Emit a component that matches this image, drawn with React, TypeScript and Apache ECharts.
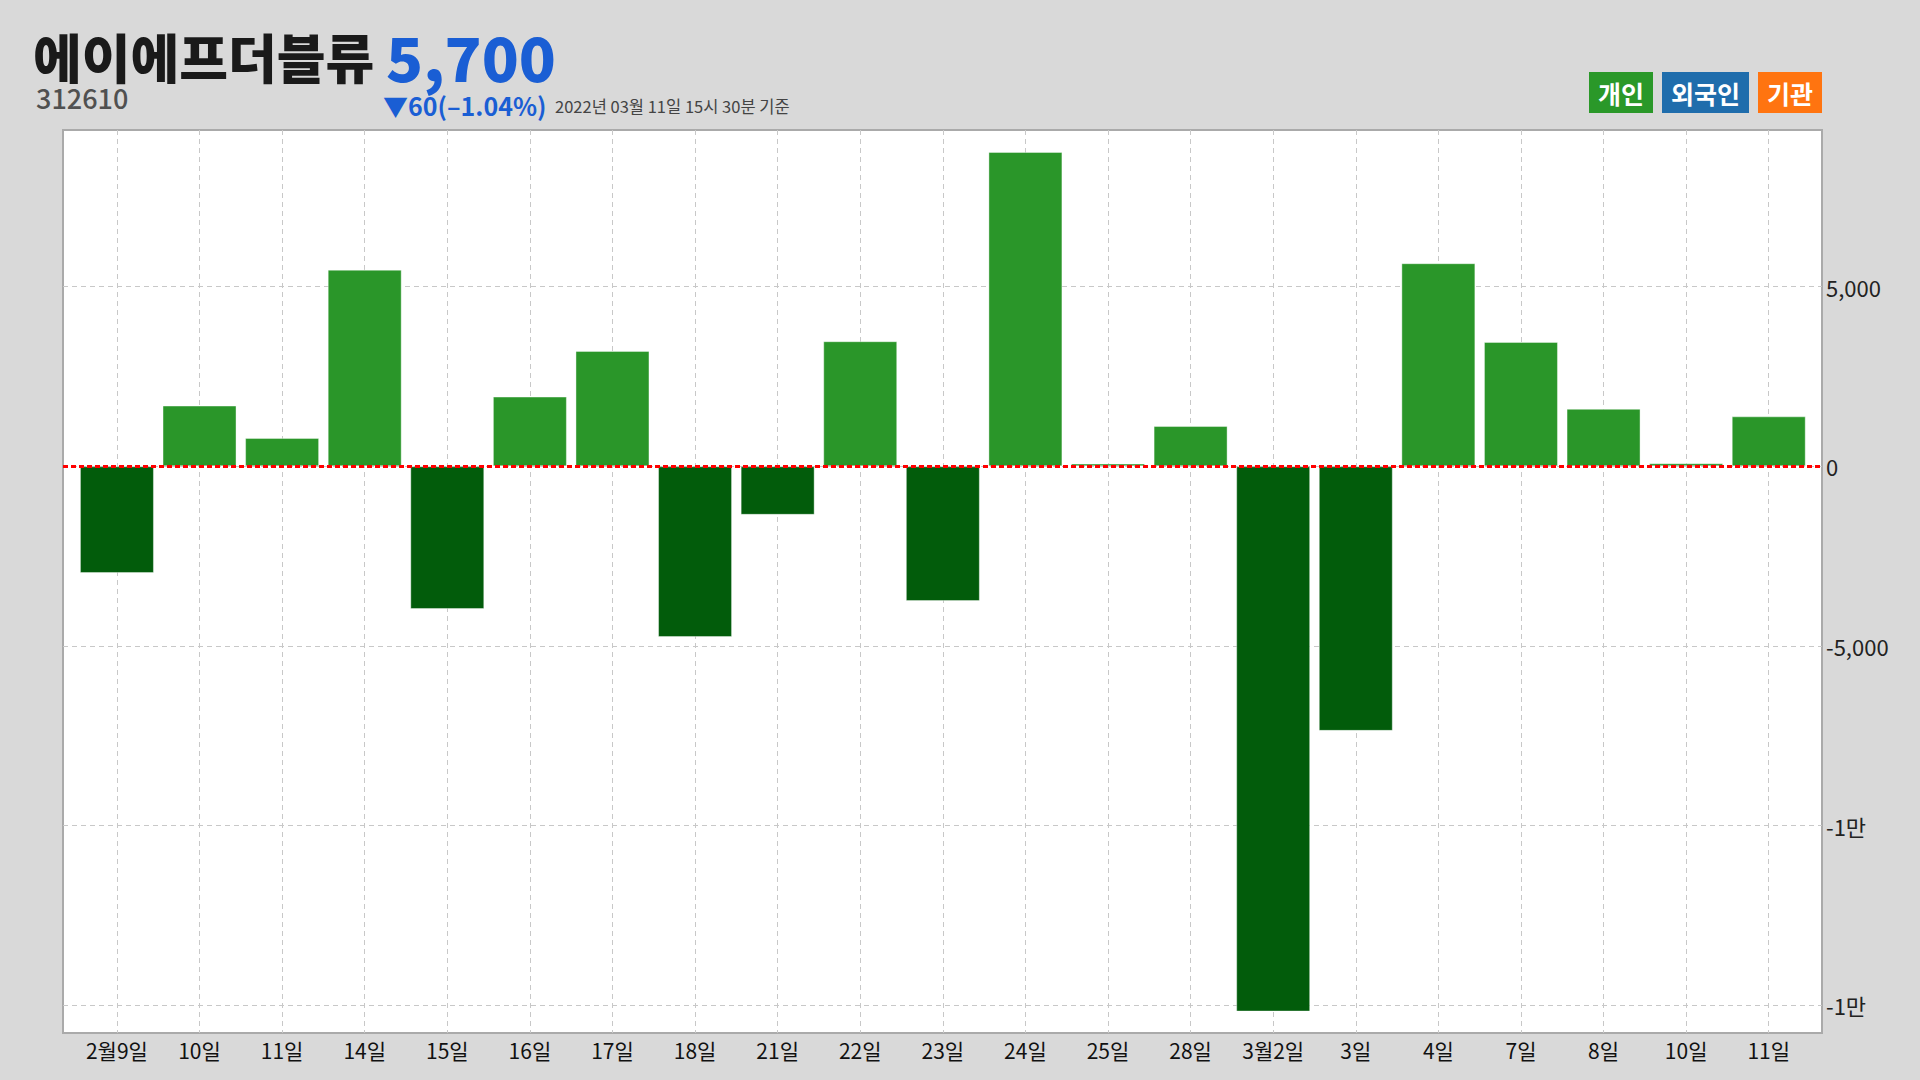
import React, { useEffect, useRef } from "react";
import * as echarts from "echarts";

// ---- data ----
const stockName = "에이에프더블류";
const stockCode = "312610";
const price = "5,700";
const change = "▼60(–1.04%)";
const asOf = "2022년 03월 11일 15시 30분 기준";

const categories = [
  "2월9일", "10일", "11일", "14일", "15일", "16일", "17일", "18일", "21일", "22일",
  "23일", "24일", "25일", "28일", "3월2일", "3일", "4일", "7일", "8일", "10일", "11일",
];
// 개인 순매수 (주)
const individualNet = [
  -2970, 1690, 790, 5470, -3970, 1940, 3210, -4750, -1350, 3480,
  -3750, 8745, 75, 1120, -15170, -7360, 5650, 3460, 1600, 85, 1390,
];
const legendNames = ["개인", "외국인", "기관"];
const legendColors = ["#2a9829", "#1f6dac", "#ff7410"];

const Y_MIN = -15766;
const Y_MAX = 9356;
const X_MIN = -0.653;
const X_MAX = 20.645;

const POS = "#2a9629";
const NEG = "#025c0b";
const FONT = "'Noto Sans CJK KR', 'Noto Sans', sans-serif";

function yLabel(v: number): string {
  if (Math.abs(v % 5000) > 1e-6) return "";
  const a = Math.abs(v);
  if (a >= 10000) return (v < 0 ? "-" : "") + Math.trunc(a / 10000) + "만";
  return (v < 0 ? "-" : "") + a.toLocaleString("en-US");
}

function xLabel(v: number): string {
  const r = Math.round(v);
  if (Math.abs(v - r) > 1e-6) return "";
  return categories[r] ?? "";
}

export default function App() {
  const ref = useRef<HTMLDivElement>(null);
  useEffect(() => {
    document.body.style.margin = "0";
    if (!ref.current) return;
    const chart = echarts.init(ref.current, undefined, { renderer: "svg" });

    const legendBoxes = [
      { x: 1589, w: 64 },
      { x: 1662, w: 87 },
      { x: 1758, w: 64 },
    ];
    const legendGraphics: any[] = [];
    legendNames.forEach((n, i) => {
      const b = legendBoxes[i];
      legendGraphics.push({
        type: "rect",
        shape: { x: b.x, y: 72, width: b.w, height: 41 },
        style: { fill: legendColors[i] },
        z: 10,
      });
      legendGraphics.push({
        type: "text",
        x: b.x + b.w / 2,
        y: 93,
        z: 11,
        style: {
          text: n,
          fill: "#fff",
          font: `bold 25px ${FONT}`,
          align: "center",
          verticalAlign: "middle",
          textAlign: "center",
          textVerticalAlign: "middle",
        },
      });
    });

    const txt = (
      text: string,
      x: number,
      y: number,
      font: string,
      fill: string,
      lineHeight: number
    ) => ({
      type: "text",
      x,
      y,
      z: 10,
      style: {
        text,
        fill,
        font,
        lineHeight,
        align: "left",
        verticalAlign: "middle",
        textAlign: "left",
        textVerticalAlign: "middle",
      },
    });

    const option: any = {
      animation: false,
      backgroundColor: "#d9d9d9",
      grid: {
        left: 63,
        right: 98,
        top: 130,
        bottom: 47,
        show: true,
        backgroundColor: "#ffffff",
        borderColor: "#aaaaaa",
        borderWidth: 2,
        containLabel: false,
        outerBoundsMode: "none",
      },
      xAxis: {
        type: "value",
        min: X_MIN,
        max: X_MAX,
        minInterval: 1,
        maxInterval: 1,
        splitNumber: 21,
        axisLine: { show: false },
        axisTick: { show: false },
        axisLabel: {
          formatter: xLabel,
          showMinLabel: false,
          showMaxLabel: false,
          margin: 6,
          fontSize: 21,
          color: "#111",
          fontFamily: FONT,
        },
        splitLine: {
          show: true,
          showMinLine: false,
          showMaxLine: false,
          lineStyle: { color: "#c8c8c8", width: 1, type: [5, 4] },
        },
      },
      yAxis: {
        type: "value",
        position: "right",
        min: Y_MIN,
        max: Y_MAX,
        minInterval: 5000,
        maxInterval: 5000,
        splitNumber: 5,
        axisLine: { show: false },
        axisTick: { show: false },
        axisLabel: {
          formatter: yLabel,
          showMinLabel: false,
          showMaxLabel: false,
          margin: 4,
          fontSize: 22,
          color: "#222",
          fontFamily: FONT,
        },
        splitLine: {
          show: true,
          showMinLine: false,
          showMaxLine: false,
          lineStyle: { color: "#c8c8c8", width: 1, type: [5, 4] },
        },
      },
      series: [
        {
          name: "개인",
          type: "bar",
          barWidth: 74,
          data: individualNet.map((v, i) => [i, v]),
          itemStyle: {
            color: (p: any) => (p.value[1] >= 0 ? POS : NEG),
            borderColor: "rgba(255,255,255,0.4)",
            borderWidth: 1,
          },
          markLine: {
            silent: true,
            symbol: ["none", "none"],
            label: { show: false },
            lineStyle: { color: "#ff0000", width: 3, type: [5, 3] },
            data: [{ yAxis: 0 }],
            z: 5,
          },
        },
      ],
      graphic: [
        txt(stockName, 33, 56, `900 53px ${FONT}`, "#1a1a1a", 46),
        txt(price, 386, 55, `900 61px ${FONT}`, "#1a5ed4", 48),
        txt(stockCode, 36, 97, `500 27px ${FONT}`, "#505050", 22),
        txt(change, 383, 105, `bold 25px ${FONT}`, "#1a5ed4", 22),
        txt(asOf, 555, 106, `16.5px ${FONT}`, "#444444", 16),
        ...legendGraphics,
      ],
    };
    chart.setOption(option);
    return () => chart.dispose();
  }, []);
  return (
    <div
      ref={ref}
      style={{ position: "fixed", left: 0, top: 0, width: 1920, height: 1080 }}
    />
  );
}
